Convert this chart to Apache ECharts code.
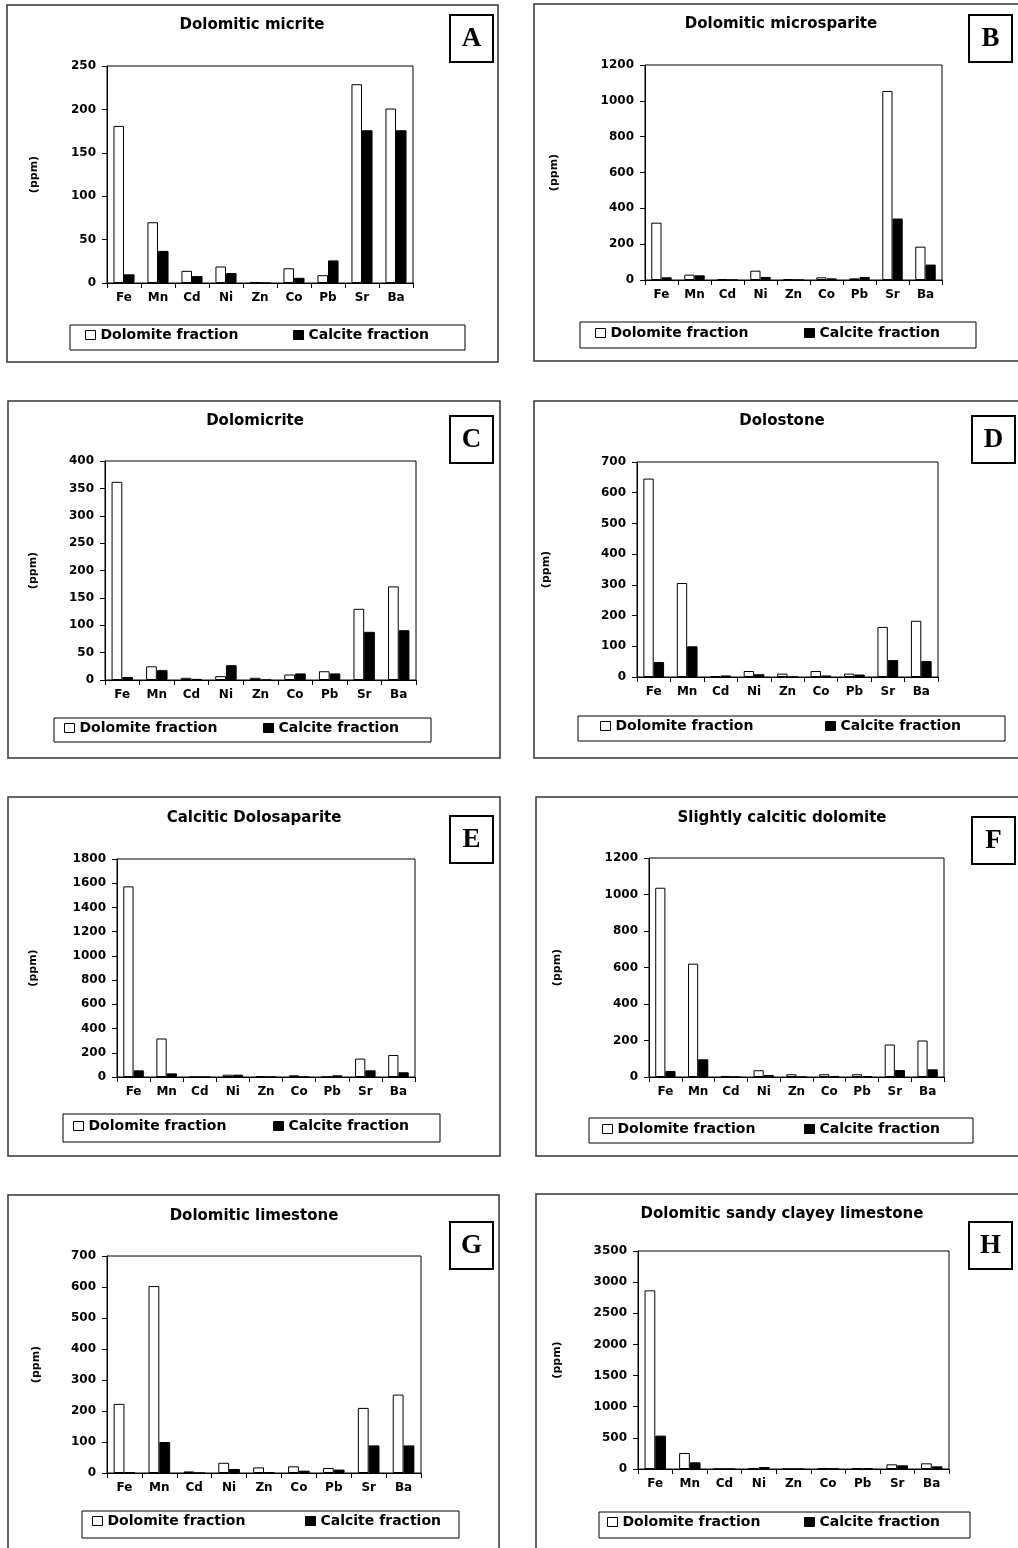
<!DOCTYPE html>
<html>
<head>
<meta charset="utf-8">
<script src="https://cdn.jsdelivr.net/npm/echarts@6/dist/echarts.min.js"></script>
<style>
  html, body { margin: 0; padding: 0; background: #fff; }
  #chart { width: 1018px; height: 1548px; }
</style>
</head>
<body>
<div id="chart"></div>
<script>
// trace elements on the x axis
const elements = ['Fe', 'Mn', 'Cd', 'Ni', 'Zn', 'Co', 'Pb', 'Sr', 'Ba']
const titles = [
  'Dolomitic micrite', 'Dolomitic microsparite', 'Dolomicrite', 'Dolostone',
  'Calcitic Dolosaparite', 'Slightly calcitic dolomite', 'Dolomitic limestone',
  'Dolomitic sandy clayey limestone',
]
const letters = ['A', 'B', 'C', 'D', 'E', 'F', 'G', 'H']

// values in ppm
const dolomiteA = [181, 70, 14, 19, 1, 17, 9, 229, 201]
const calciteA = [10, 37, 8, 11.5, 0, 6, 26, 176, 176]
const dolomiteB = [320, 30, 4, 52, 4, 15, 9, 1055, 186]
const calciteB = [15, 26, 0, 17, 0, 9, 17, 343, 86]
const dolomiteC = [362, 25, 4, 7, 4, 10, 16, 130, 171]
const calciteC = [5.5, 18, 2, 27, 0, 12, 12, 88, 91]
const dolomiteD = [646, 306, 3, 19.5, 11, 19.5, 11, 163, 183]
const calciteD = [49, 100, 5, 9, 0, 5, 8, 55, 52]
const dolomiteE = [1574, 318, 0, 19, 8, 14, 0, 152, 182]
const calciteE = [55, 30, 0, 19, 0, 0, 14, 55, 39]
const dolomiteF = [1037, 621, 5, 37, 15, 15, 15, 178, 200]
const calciteF = [33, 97, 0, 11, 0, 5, 5, 38, 42]
const dolomiteG = [223, 603, 5, 33, 18, 21.5, 16, 210, 253]
const calciteG = [3, 100, 0, 13, 3, 7.5, 11, 89, 89]
const dolomiteH = [2868, 257, 0, 16, 0, 16, 16, 75, 91]
const calciteH = [536, 107, 0, 32, 0, 5, 16, 59, 43]

const dolomite = [dolomiteA, dolomiteB, dolomiteC, dolomiteD, dolomiteE, dolomiteF, dolomiteG, dolomiteH]
const calcite = [calciteA, calciteB, calciteC, calciteD, calciteE, calciteF, calciteG, calciteH]

// y axis ranges
const yMax = [250, 1200, 400, 700, 1800, 1200, 700, 3500]
const yStep = [50, 200, 50, 100, 200, 200, 100, 500]

// panel layout (pixels)
const frames = [[7, 5, 491, 357], [534, 4, 500, 357], [8, 401, 492, 357], [534, 401, 500, 357],
  [8, 797, 492, 359], [536, 797, 500, 359], [8, 1195, 491, 400], [536, 1194, 500, 400]]
const grids = [[107, 66, 306, 217], [645, 65, 297, 215], [105, 461, 311, 219], [637, 462, 301, 215],
  [117, 859, 298, 218], [649, 858, 295, 219], [107, 1256, 314, 217], [638, 1251, 311, 218]]
const titlePos = [[252, 25], [781, 24], [255, 421], [782, 421], [254, 818], [782, 818], [254, 1216], [782, 1214]]
const letterBox = [[450, 15], [969, 15], [450, 416], [972, 416], [450, 816], [972, 817], [450, 1222], [969, 1222]]
const legendBox = [[70, 325, 395, 25], [580, 322, 396, 26], [54, 718, 377, 24], [578, 716, 427, 25],
  [63, 1114, 377, 28], [589, 1118, 384, 25], [82, 1511, 377, 27], [599, 1512, 371, 26]]
const legendItems = [[85, 293, 337], [595, 804, 335], [64, 263, 730], [600, 825, 728],
  [73, 273, 1128], [602, 804, 1131], [92, 305, 1523], [607, 804, 1524]]
const nameGaps = [67, 85, 66, 85, 78, 86, 65, 75]

const FONT = '"DejaVu Sans", Arial, sans-serif'

const chart = echarts.init(document.getElementById('chart'), null, { renderer: 'canvas' })

const grid = [], xAxis = [], yAxis = [], series = [], legend = [], graphic = []

for (let i = 0; i < 8; i++) {
  const [gl, gt, gw, gh] = grids[i]
  grid.push({ left: gl, top: gt, width: gw, height: gh, show: true, borderColor: '#000', borderWidth: 1 })
  xAxis.push({
    type: 'category', gridIndex: i, data: elements,
    axisLine: { lineStyle: { color: '#000', width: 1 } },
    axisTick: { show: true, length: 5, lineStyle: { color: '#000' } },
    axisLabel: { interval: 0, margin: 9, color: '#000', fontWeight: 'bold', fontSize: 12, fontFamily: FONT },
  })
  yAxis.push({
    type: 'value', gridIndex: i, min: 0, max: yMax[i], interval: yStep[i],
    name: '(ppm)', nameLocation: 'middle', nameGap: nameGaps[i],
    nameTextStyle: { color: '#000', fontWeight: 'bold', fontSize: 11, fontFamily: FONT },
    axisLine: { show: true, lineStyle: { color: '#000', width: 1 } },
    axisTick: { show: true, length: 5, lineStyle: { color: '#000' } },
    axisLabel: {
      margin: 11, color: '#000', fontWeight: 'bold', fontSize: 12, fontFamily: FONT,
      formatter: v => String(v),
    },
    splitLine: { show: false },
  })
  series.push({
    name: 'Dolomite fraction', type: 'bar', xAxisIndex: i, yAxisIndex: i,
    data: dolomite[i], barWidth: '31%', barGap: '0%',
    itemStyle: { color: '#fff', borderColor: '#000', borderWidth: 1 },
  })
  series.push({
    name: 'Calcite fraction', type: 'bar', xAxisIndex: i, yAxisIndex: i,
    data: calcite[i], barWidth: '31%', barGap: '0%',
    itemStyle: { color: '#000', borderColor: '#000', borderWidth: 1 },
  })

  const [d1, c1, ly] = legendItems[i]
  const legendCommon = {
    top: ly - 9, itemWidth: 10, itemHeight: 9, itemGap: 5, selectedMode: false, padding: 0,
    textStyle: { color: '#000', fontWeight: 'bold', fontSize: 14, fontFamily: FONT },
  }
  legend.push({ ...legendCommon, left: d1, data: [{ name: 'Dolomite fraction', icon: 'rect', itemStyle: { color: '#fff', borderColor: '#000', borderWidth: 1 } }] })
  legend.push({ ...legendCommon, left: c1, data: [{ name: 'Calcite fraction', icon: 'rect', itemStyle: { color: '#000', borderColor: '#000', borderWidth: 1 } }] })

  const [fx, fy, fw, fh] = frames[i]
  graphic.push({ type: 'rect', shape: { x: fx, y: fy, width: fw, height: fh }, style: { fill: null, stroke: '#333', lineWidth: 1.5 }, silent: true })
  const [lx, lyb, lw, lh] = legendBox[i]
  graphic.push({ type: 'rect', shape: { x: lx, y: lyb, width: lw, height: lh }, style: { fill: null, stroke: '#000', lineWidth: 1 }, silent: true })
  const [bx, by] = letterBox[i]
  graphic.push({ type: 'rect', shape: { x: bx, y: by, width: 43, height: 47 }, style: { fill: '#fff', stroke: '#000', lineWidth: 2 }, silent: true })
  graphic.push({
    type: 'text', x: bx + 21.5, y: by + 24, silent: true,
    style: { text: letters[i], fill: '#000', font: 'bold 27px "Liberation Serif", "Times New Roman", serif', align: 'center', verticalAlign: 'middle', textAlign: 'center', textVerticalAlign: 'middle' },
  })
  const [tx, ty] = titlePos[i]
  graphic.push({
    type: 'text', x: tx, y: ty, silent: true,
    style: { text: titles[i], fill: '#000', font: 'bold 15px "DejaVu Sans", Arial, sans-serif', align: 'center', verticalAlign: 'middle', textAlign: 'center', textVerticalAlign: 'middle' },
  })
}

chart.setOption({
  backgroundColor: '#fff',
  animation: false,
  grid, xAxis, yAxis, series, legend, graphic,
})
</script>
</body>
</html>
